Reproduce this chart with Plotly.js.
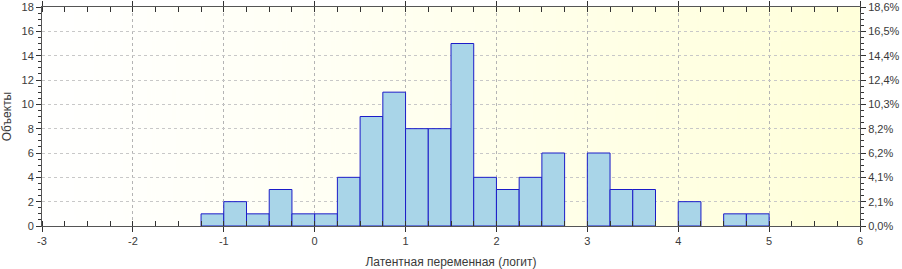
<!DOCTYPE html>
<html><head><meta charset="utf-8">
<script src="https://cdn.plot.ly/plotly-3.0.1.min.js"></script>
<style>html,body{margin:0;padding:0;background:#fff}#chart{width:902px;height:269px}</style>
</head><body><div id="chart"></div>
<script>
// Bin centers (logits), bin width 0.25
const binCenters = [-1.125,-0.875,-0.625,-0.375,-0.125,0.125,0.375,0.625,0.875,1.125,1.375,1.625,1.875,2.125,2.375,2.625,3.125,3.375,3.625,4.125,4.625,4.875];
const counts     = [1,2,1,3,1,1,4,9,11,8,8,15,4,3,4,6,6,3,3,2,1,1];
const binWidth = 0.25;
const countTicks = [0,2,4,6,8,10,12,14,16,18];
const percentTickLabels = ['0,0%','2,1%','4,1%','6,2%','8,2%','10,3%','12,4%','14,4%','16,5%','18,6%'];
const xTicks = [-3,-2,-1,0,1,2,3,4,5,6];

// gradient background image
const cv = document.createElement('canvas');
cv.width = 400; cv.height = 10;
const ctx = cv.getContext('2d');
const g = ctx.createLinearGradient(0,0,400,0);
g.addColorStop(0,'#ffffff');
g.addColorStop(0.35,'#fffff4');
g.addColorStop(1,'#ffffda');
ctx.fillStyle = g; ctx.fillRect(0,0,400,10);
const bgURL = cv.toDataURL();

const fnt = {family:'Liberation Sans, Arial, sans-serif', size:11, color:'#3a3a3a'};
const tfnt = {family:'Liberation Sans, Arial, sans-serif', size:12, color:'#3a3a3a'};

const traces = [{
  type:'bar', x:binCenters, y:counts, width:binWidth,
  marker:{color:'#a9d5e8', line:{color:'#1c1cc8', width:1}},
  hoverinfo:'x+y'
},{
  type:'bar', x:binCenters, y:counts, width:binWidth, yaxis:'y2',
  marker:{color:'rgba(0,0,0,0)', line:{width:0}}, hoverinfo:'skip', showlegend:false
}];

const layout = {
  width:902, height:269,
  margin:{l:42, r:42, t:7, b:43},
  paper_bgcolor:'#ffffff', plot_bgcolor:'rgba(0,0,0,0)',
  showlegend:false, bargap:0, barmode:'overlay',
  font:fnt,
  images:[{source:bgURL, xref:'paper', yref:'paper', x:0, y:1, sizex:1, sizey:1, sizing:'stretch', layer:'below'}],
  xaxis:{
    range:[-3,6], tickvals:xTicks, ticktext:xTicks.map(String),
    showline:true, linecolor:'#555', linewidth:1, mirror:'allticks',
    ticks:'outside', ticklen:5, tickcolor:'#333',
    showgrid:true, gridcolor:'#b4b4b4', griddash:'dot', gridwidth:1,
    zeroline:false,
    minor:{dtick:0.25, ticks:'inside', ticklen:3, tickcolor:'#333', showgrid:false},
    title:{text:'Латентная переменная (логит)', font:tfnt, standoff:12},
    tickfont:fnt, fixedrange:true, ticklabeloverflow:'allow'
  },
  yaxis:{
    range:[0,18], tickvals:countTicks,
    showline:true, linecolor:'#555', linewidth:1,
    ticks:'outside', ticklen:5, tickcolor:'#333',
    showgrid:true, gridcolor:'#c8c8c8', griddash:'dot', gridwidth:1,
    zeroline:false,
    minor:{dtick:0.5, ticks:'outside', ticklen:3, tickcolor:'#333', showgrid:false},
    title:{text:'Объекты', font:tfnt, standoff:8},
    tickfont:fnt, fixedrange:true, ticklabeloverflow:'allow'
  },
  yaxis2:{
    overlaying:'y', side:'right', range:[0,18],
    tickvals:countTicks, ticktext:percentTickLabels,
    showline:true, linecolor:'#555', linewidth:1,
    ticks:'outside', ticklen:5, tickcolor:'#333',
    showgrid:false, zeroline:false,
    minor:{dtick:0.5, ticks:'outside', ticklen:3, tickcolor:'#333'},
    tickfont:fnt, fixedrange:true, ticklabeloverflow:'allow'
  }
};
Plotly.newPlot('chart', traces, layout, {displayModeBar:false, staticPlot:true});
</script></body></html>
